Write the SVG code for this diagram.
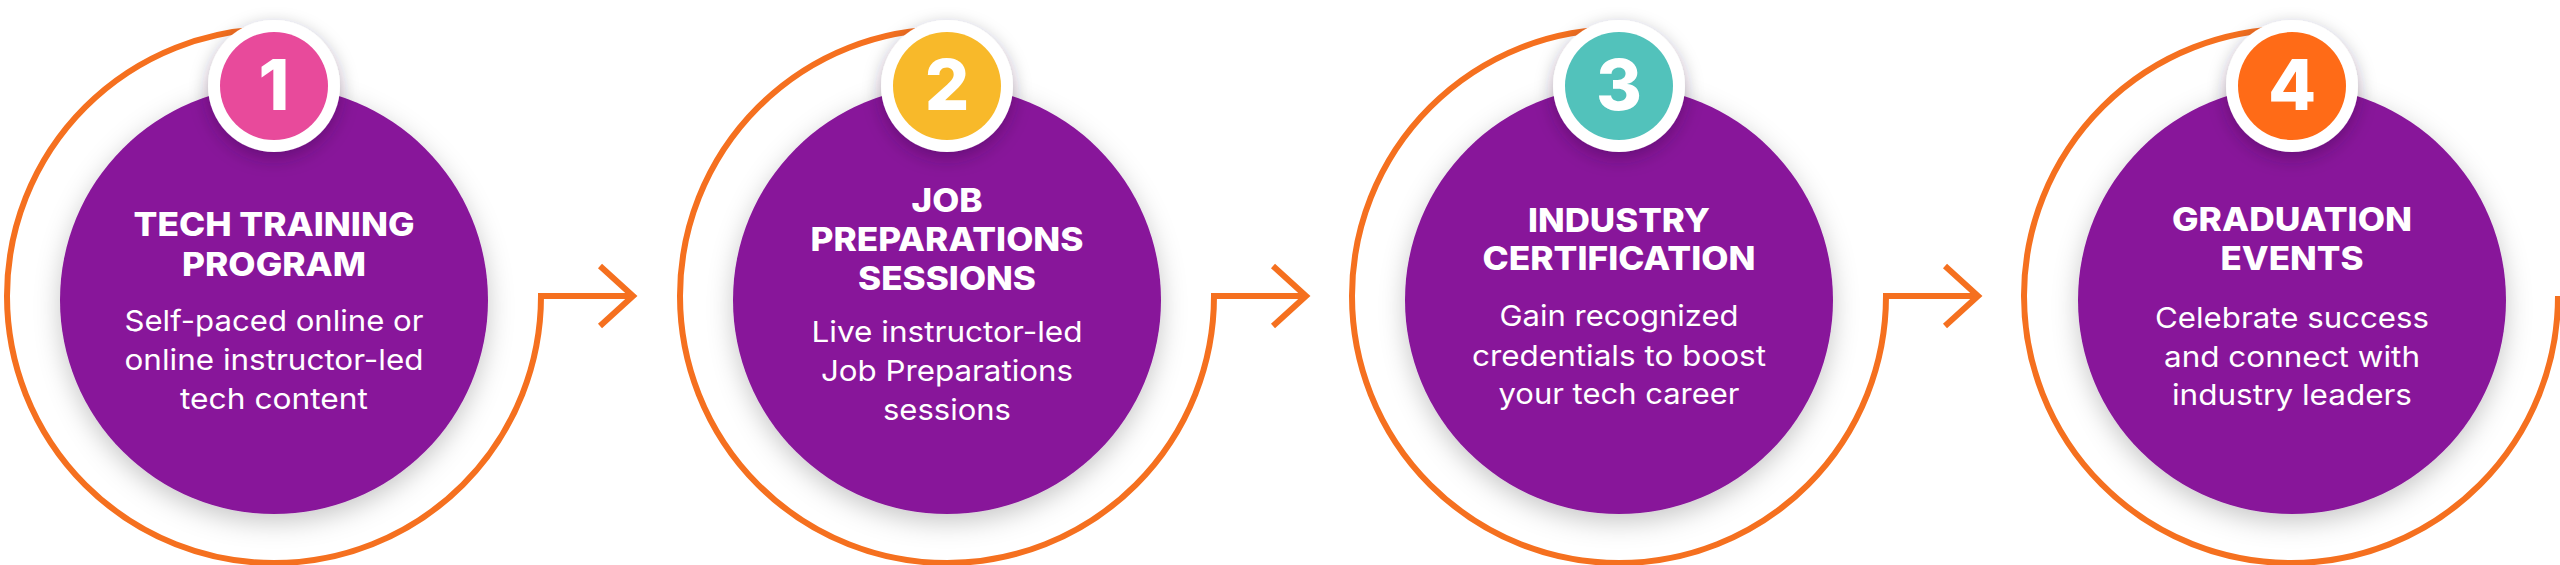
<svg xmlns="http://www.w3.org/2000/svg" width="2560" height="565" viewBox="0 0 2560 565">
<style>
.ring{fill:none;stroke:#F5701F;stroke-width:6;stroke-linejoin:miter}
.disc{fill:#88189A}
.badge-bg{fill:#FFFFFF}
.num{font-family:Inter,"Noto Sans",sans-serif;font-weight:800;font-size:70px;fill:#FFFFFF;text-anchor:middle}
.title{font-family:Inter,"Noto Sans",sans-serif;font-weight:800;font-size:33px;fill:#FFFFFF;text-anchor:middle}
.body{font-family:Inter,"Noto Sans",sans-serif;font-weight:400;font-size:29px;fill:#FFFFFF;text-anchor:middle}
</style>
<defs>
<filter id="sh" x="-30%" y="-30%" width="160%" height="160%">
<feDropShadow dx="0" dy="8" stdDeviation="13" flood-color="#000000" flood-opacity="0.22"/>
</filter>
<filter id="shb" x="-40%" y="-40%" width="180%" height="180%">
<feDropShadow dx="0" dy="6" stdDeviation="9" flood-color="#2a0033" flood-opacity="0.35"/>
</filter>
</defs>
<rect width="2560" height="565" fill="#FFFFFF"/>
<g id="connectors">
<path class="ring" d="M 274 29 A 267 267 0 1 0 541 296 L 633 296"/>
<path class="ring" d="M 600 266 L 633 296 L 600 326"/>
<path class="ring" d="M 947 29 A 267 267 0 1 0 1214 296 L 1306 296"/>
<path class="ring" d="M 1273 266 L 1306 296 L 1273 326"/>
<path class="ring" d="M 1619 29 A 267 267 0 1 0 1886 296 L 1978 296"/>
<path class="ring" d="M 1945 266 L 1978 296 L 1945 326"/>
<path class="ring" d="M 2292 29 A 267 267 0 1 0 2558 296"/>
</g>
<g id="node1">
<circle class="disc" cx="274" cy="300" r="214" filter="url(#sh)"/>
<circle class="badge-bg" cx="274" cy="86" r="66" filter="url(#shb)"/>
<circle cx="274" cy="86" r="54" fill="#E84A9B"/>
<text class="num" x="274" y="110">1</text>
<text class="title" x="274" y="236" textLength="281" lengthAdjust="spacingAndGlyphs">TECH TRAINING</text>
<text class="title" x="274" y="276" textLength="184" lengthAdjust="spacingAndGlyphs">PROGRAM</text>
<text class="body" x="274" y="331" textLength="299" lengthAdjust="spacingAndGlyphs">Self-paced online or</text>
<text class="body" x="274" y="370" textLength="299" lengthAdjust="spacingAndGlyphs">online instructor-led</text>
<text class="body" x="274" y="409" textLength="188" lengthAdjust="spacingAndGlyphs">tech content</text>
</g>
<g id="node2">
<circle class="disc" cx="947" cy="300" r="214" filter="url(#sh)"/>
<circle class="badge-bg" cx="947" cy="86" r="66" filter="url(#shb)"/>
<circle cx="947" cy="86" r="54" fill="#F8B92A"/>
<text class="num" x="947" y="110">2</text>
<text class="title" x="947" y="212" textLength="71" lengthAdjust="spacingAndGlyphs">JOB</text>
<text class="title" x="947" y="251" textLength="273" lengthAdjust="spacingAndGlyphs">PREPARATIONS</text>
<text class="title" x="947" y="290" textLength="178" lengthAdjust="spacingAndGlyphs">SESSIONS</text>
<text class="body" x="947" y="342" textLength="271" lengthAdjust="spacingAndGlyphs">Live instructor-led</text>
<text class="body" x="947" y="381" textLength="252" lengthAdjust="spacingAndGlyphs">Job Preparations</text>
<text class="body" x="947" y="420" textLength="128" lengthAdjust="spacingAndGlyphs">sessions</text>
</g>
<g id="node3">
<circle class="disc" cx="1619" cy="300" r="214" filter="url(#sh)"/>
<circle class="badge-bg" cx="1619" cy="86" r="66" filter="url(#shb)"/>
<circle cx="1619" cy="86" r="54" fill="#52C2BB"/>
<text class="num" x="1619" y="110">3</text>
<text class="title" x="1619" y="232" textLength="182" lengthAdjust="spacingAndGlyphs">INDUSTRY</text>
<text class="title" x="1619" y="270" textLength="273" lengthAdjust="spacingAndGlyphs">CERTIFICATION</text>
<text class="body" x="1619" y="326" textLength="239" lengthAdjust="spacingAndGlyphs">Gain recognized</text>
<text class="body" x="1619" y="366" textLength="294" lengthAdjust="spacingAndGlyphs">credentials to boost</text>
<text class="body" x="1619" y="404" textLength="241" lengthAdjust="spacingAndGlyphs">your tech career</text>
</g>
<g id="node4">
<circle class="disc" cx="2292" cy="300" r="214" filter="url(#sh)"/>
<circle class="badge-bg" cx="2292" cy="86" r="66" filter="url(#shb)"/>
<circle cx="2292" cy="86" r="54" fill="#FF6B17"/>
<text class="num" x="2292" y="110">4</text>
<text class="title" x="2292" y="231" textLength="240" lengthAdjust="spacingAndGlyphs">GRADUATION</text>
<text class="title" x="2292" y="270" textLength="143" lengthAdjust="spacingAndGlyphs">EVENTS</text>
<text class="body" x="2292" y="328" textLength="274" lengthAdjust="spacingAndGlyphs">Celebrate success</text>
<text class="body" x="2292" y="367" textLength="256" lengthAdjust="spacingAndGlyphs">and connect with</text>
<text class="body" x="2292" y="405" textLength="240" lengthAdjust="spacingAndGlyphs">industry leaders</text>
</g>
</svg>
